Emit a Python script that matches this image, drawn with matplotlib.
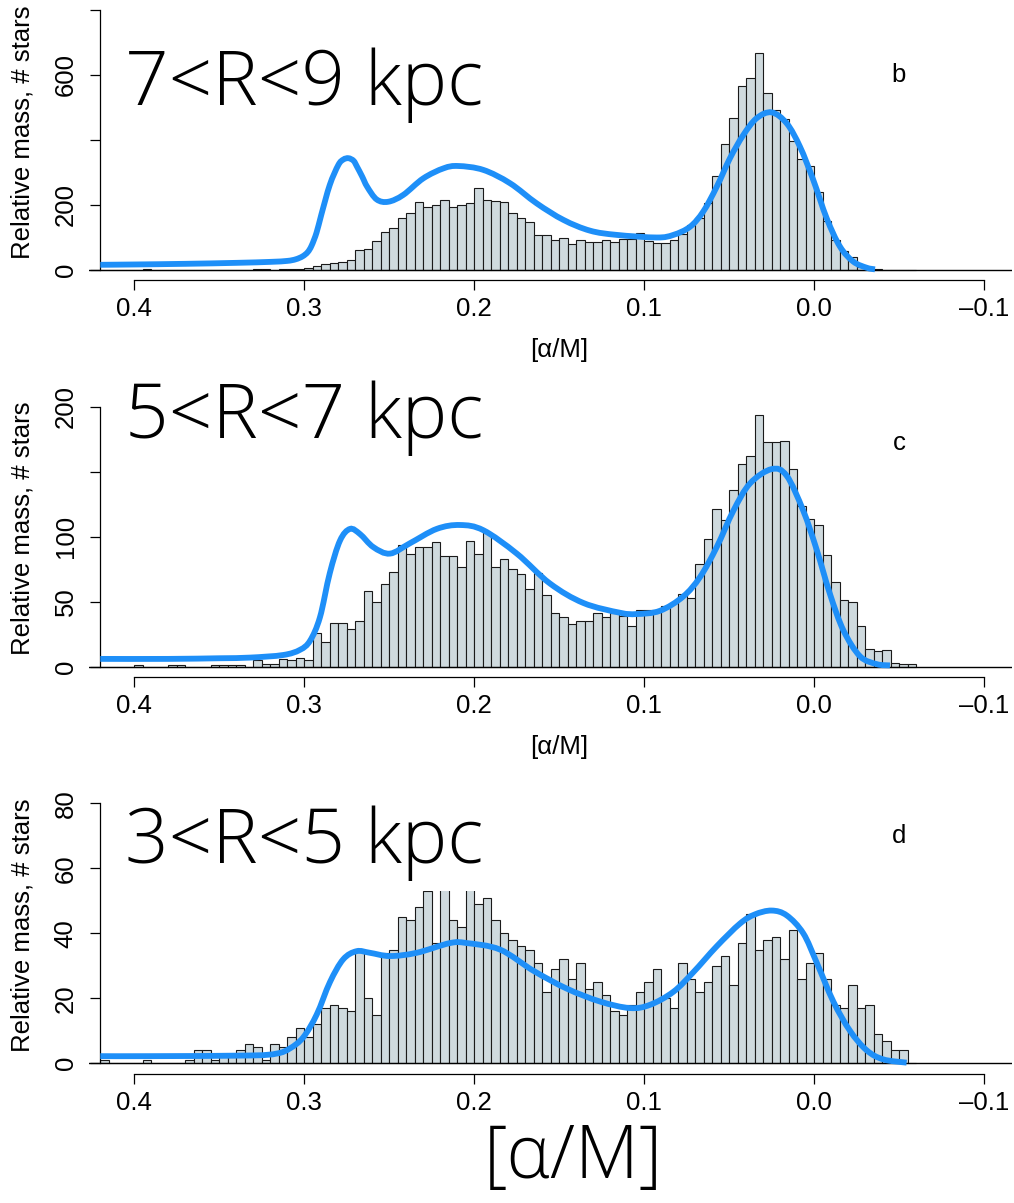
import numpy as np
import matplotlib
matplotlib.use("Agg")
import matplotlib.pyplot as plt
from matplotlib.path import Path
from matplotlib.patches import PathPatch

plt.rcParams['font.family'] = ['Liberation Sans', 'DejaVu Sans']

# [alpha/M] bins: upper edges from 0.42 down to -0.055, width 0.005
bin_width = 0.005
bin_hi = np.round(0.42 - bin_width * np.arange(96), 3)

counts_r7_9 = [
    0, 0, 0, 0, 0, 2, 0, 0, 0, 0,          # 0.420 .. 0.375
    0, 0, 0, 0, 0, 1, 0, 0, 4, 4,          # 0.370 .. 0.325
    1, 2, 2, 3, 7, 11, 17, 22, 25, 31,     # 0.320 .. 0.275
    63, 66, 89, 116, 129, 160, 175, 210, 193, 199,   # 0.270 .. 0.225
    215, 193, 201, 206, 252, 215, 213, 208, 175, 160,  # 0.220 .. 0.175
    149, 109, 109, 92, 97, 81, 93, 86, 85, 91,       # 0.170 .. 0.125
    85, 95, 95, 115, 88, 82, 82, 92, 110, 140,       # 0.120 .. 0.075
    161, 205, 290, 387, 469, 567, 590, 669, 546, 492,  # 0.070 .. 0.025
    464, 397, 342, 321, 239, 151, 92, 59, 39, 10,    # 0.020 .. -0.025
    4, 2, 0, 0, 0, 0,                                # -0.030 .. -0.055
]

counts_r5_7 = [
    0, 0, 0, 0, 1, 0, 0, 0, 1, 1,
    0, 0, 0, 1, 1, 1, 1, 0, 5, 2,
    2, 6, 5, 7, 5, 26, 19, 34, 34, 29,
    35, 58, 50, 64, 73, 94, 87, 92, 92, 96,
    85, 85, 77, 97, 87, 104, 77, 83, 75, 71,
    60, 72, 55, 41, 38, 33, 35, 35, 41, 38,
    41, 39, 31, 44, 44, 43, 47, 49, 56, 53,
    79, 98, 121, 113, 136, 156, 162, 194, 173, 173,
    174, 152, 124, 114, 109, 86, 65, 51, 50, 31,
    14, 12, 13, 3, 2, 2,
]

counts_r3_5 = [
    1, 0, 0, 0, 0, 1, 0, 0, 0, 0,
    1, 4, 4, 1, 2, 2, 4, 6, 5, 1,
    6, 5, 8, 11, 8, 12, 17, 18, 17, 16,
    35, 20, 15, 34, 35, 45, 44, 48, 53, 37,
    62, 44, 42, 58, 49, 51, 44, 40, 38, 36,
    35, 31, 22, 29, 32, 26, 31, 23, 25, 21,
    16, 15, 18, 22, 25, 29, 20, 17, 31, 26,
    22, 25, 30, 33, 24, 37, 46, 35, 38, 39,
    32, 41, 26, 31, 34, 26, 18, 17, 24, 17,
    18, 9, 7, 4, 4, 0,
]

# Model density curves (alpha/M, relative mass)
model_x_r7_9 = [0.42, 0.40, 0.37, 0.34, 0.32, 0.31, 0.305, 0.301, 0.298, 0.2957,
                0.2928, 0.290, 0.285, 0.280, 0.277, 0.274, 0.271, 0.269, 0.266, 0.263,
                0.2574, 0.2506, 0.2418, 0.230, 0.218, 0.2094, 0.1947, 0.179, 0.1633, 0.1475,
                0.1319, 0.1162, 0.0927, 0.0829, 0.0731, 0.0653, 0.0574, 0.0496, 0.0418, 0.0339,
                0.0251, 0.0162, 0.0084, 0.0006, -0.0073, -0.0151, -0.0229, -0.0308, -0.0357]
model_y_r7_9 = [16, 17, 19, 22, 25, 28, 33, 42, 55, 75,
                115, 170, 262, 323, 340, 344, 336, 318, 288, 256,
                217, 210, 231, 282, 313, 320, 308, 267, 205, 154,
                121, 108, 100, 108, 133, 180, 256, 344, 415, 467,
                485, 451, 379, 277, 159, 72, 26, 7, 2]

model_x_r5_7 = [0.42, 0.38, 0.35, 0.332, 0.3124, 0.3025, 0.2966, 0.2908, 0.285, 0.279,
                0.2731, 0.2672, 0.2594, 0.2496, 0.2378, 0.2221, 0.2084, 0.1947, 0.175, 0.1555,
                0.1358, 0.1143, 0.1045, 0.0908, 0.0771, 0.0672, 0.0574, 0.0476, 0.0378,
                0.0251, 0.0163, 0.0065, -0.0014, -0.0092, -0.0171, -0.0269, -0.0367, -0.0445]
model_y_r5_7 = [6, 6, 6.5, 7, 9, 13, 20, 38, 72, 97,
                106, 102, 92, 87, 95, 106, 109, 105, 87, 64,
                49, 41.5, 40.5, 43, 54, 69, 92, 120, 141,
                152, 147, 120, 90, 56, 28, 8, 2, 1]

model_x_r3_5 = [0.42, 0.3908, 0.332, 0.3162, 0.3084, 0.3006, 0.2927, 0.2849, 0.2771, 0.2692,
                0.2614, 0.2496, 0.2339, 0.2143, 0.2045, 0.1849, 0.1653, 0.1457, 0.126, 0.1084,
                0.0966, 0.0829, 0.0712, 0.0574, 0.0437, 0.035, 0.0251, 0.0162, 0.0065, -0.0014,
                -0.0112, -0.021, -0.0308, -0.0406, -0.0543]
model_y_r3_5 = [2.2, 2.2, 2.4, 3, 4.6, 8, 15, 25, 32, 34.5,
                34, 33, 34, 37, 37, 35, 28.5, 23, 19, 17,
                18, 22, 28, 36, 43, 45.8, 47, 45.5, 40, 31,
                19, 10, 4, 1.2, 0.2]

panel_titles = ["7<R<9 kpc", "5<R<7 kpc", "3<R<5 kpc"]
panel_letters = ["b", "c", "d"]
y_ticks = [[0, 200, 400, 600, 800], [0, 50, 100, 150, 200], [0, 20, 40, 60, 80]]
y_ticklabels = [["0", "200", "", "600", ""], ["0", "50", "100", "", "200"],
                ["0", "20", "40", "60", "80"]]
x_ticks = [0.4, 0.3, 0.2, 0.1, 0.0, -0.1]
x_ticklabels = ["0.4", "0.3", "0.2", "0.1", "0.0", "\u20130.1"]

panels = [
    (counts_r7_9, model_x_r7_9, model_y_r7_9),
    (counts_r5_7, model_x_r5_7, model_y_r5_7),
    (counts_r3_5, model_x_r3_5, model_y_r3_5),
]


def smooth_curve_path(xs, ys):
    """Cubic Bezier path passing through every given point (Catmull-Rom tangents)."""
    pts = np.column_stack([xs, ys]).astype(float)
    n = len(pts)
    verts = [pts[0]]
    codes = [Path.MOVETO]
    for k in range(n - 1):
        p0 = pts[k - 1] if k > 0 else pts[k]
        p1, p2 = pts[k], pts[k + 1]
        p3 = pts[k + 2] if k + 2 < n else pts[k + 1]
        c1 = p1 + (p2 - p0) / 6.0
        c2 = p2 - (p3 - p1) / 6.0
        verts += [c1, c2, p2]
        codes += [Path.CURVE4] * 3
    return Path(np.array(verts), codes)


W, H = 1014, 1203
fig = plt.figure(figsize=(W / 100, H / 100), dpi=100)

zero_px = [270.0, 666.7, 1063.3]          # pixel row of y=0 in each panel
title_base_px = [105.0, 438.0, 862.7]
letter_px = [75.0, 443.0, 836.0]
left_px, right_px = 89.0, 1012.0
px_per_unit = 1700.0                      # pixels per 1 dex in [alpha/M]
x0_px = 814.3                             # pixel column of [alpha/M]=0
span_px = 260.0                           # pixel height from 0 to top tick

bar_face = "#cfdade"
curve_col = "#1e8ff8"
title_font = ["Open Sans", "Liberation Sans"]

for i, (counts, mx, my) in enumerate(panels):
    assert len(counts) == len(bin_hi)
    ymax = y_ticks[i][-1]
    pad = 0.04 * ymax
    z = zero_px[i]
    top = z - span_px - pad * span_px / ymax
    bot = z + pad * span_px / ymax
    ax = fig.add_axes([left_px / W, 1 - bot / H, (right_px - left_px) / W, (bot - top) / H])
    ax.set_xlim((x0_px - left_px) / px_per_unit, (x0_px - right_px) / px_per_unit)
    ax.set_ylim(-pad, ymax + pad)

    ax.bar(bin_hi, counts, width=-bin_width, align="edge", color=bar_face,
           edgecolor="#1a1a1a", linewidth=0.8, zorder=2)
    ax.axhline(0, color="black", lw=1.0, zorder=3)
    ax.add_patch(PathPatch(smooth_curve_path(mx, my), facecolor="none",
                           edgecolor=curve_col, lw=4.2, capstyle="butt", zorder=4))

    for s in ("top", "right"):
        ax.spines[s].set_visible(False)
    ax.spines["left"].set_position(("data", 0.42))
    ax.spines["left"].set_bounds(0, ymax)
    ax.spines["bottom"].set_bounds(-0.1, 0.4)
    for s in ("left", "bottom"):
        ax.spines[s].set_linewidth(0.9)

    ax.set_xticks(x_ticks)
    ax.set_xticklabels(x_ticklabels)
    ax.set_yticks(y_ticks[i])
    ax.set_yticklabels(y_ticklabels[i], rotation=90, va="center")
    ax.tick_params(axis="both", direction="out", length=7.2, width=0.9, labelsize=18.5)
    ax.tick_params(axis="x", pad=5)
    ax.tick_params(axis="y", pad=9)

    fig.text(125 / W, 1 - title_base_px[i] / H, panel_titles[i], fontsize=55,
             family=title_font, fontweight="light",
             ha="left", va="baseline", zorder=10,
             bbox=dict(boxstyle="square,pad=0.14", fc="white", ec="none"))
    fig.text(899 / W, 1 - letter_px[i] / H, panel_letters[i], fontsize=18.5,
             ha="center", va="center")
    fig.text(23 / W, 1 - (z - 138) / H, "Relative mass, # stars", fontsize=18.5,
             rotation=90, ha="center", va="center")
    if i < 2:
        fig.text(559 / W, 1 - (z + 80) / H, "[\u03b1/M]", fontsize=18.5,
                 ha="center", va="center")

fig.text(573 / W, 1 - 1159 / H, "[\u03b1/M]", fontsize=53,
         family=title_font, fontweight="light",
         ha="center", va="center")

fig.savefig("out.png", dpi=100)
